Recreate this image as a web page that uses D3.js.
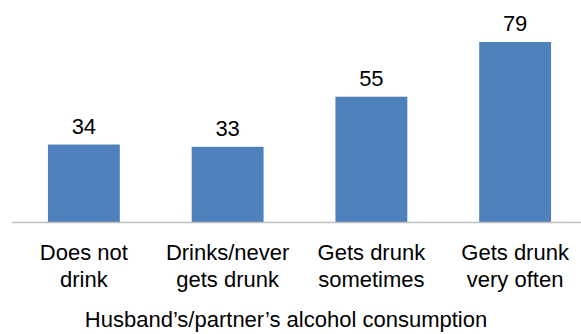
<!DOCTYPE html>
<html>
<head>
<meta charset="utf-8">
<script src="https://cdn.jsdelivr.net/npm/d3@7"></script>
<style>
  body { margin: 0; background: #fff; }
  text { font-family: "Liberation Sans", Arial, sans-serif; fill: #000; }
</style>
</head>
<body>
<div id="chart"></div>
<script>
const categories = [
    ["Does not", "drink"],
    ["Drinks/never", "gets drunk"],
    ["Gets drunk", "sometimes"],
    ["Gets drunk", "very often"]
];
const values = [34, 33, 55, 79];
const xTitle = "Husband\u2019s/partner\u2019s alcohol consumption";

const W = 581, H = 334;
const baseY = 222, topY = 42;

const svg = d3.select("#chart").append("svg")
    .attr("width", W)
    .attr("height", H);

const keys = categories.map((c, i) => i);
const x = d3.scaleBand()
    .domain(keys)
    .range([12, 587])
    .paddingInner(0.5)
    .paddingOuter(0.25);

const y = d3.scaleLinear()
    .domain([0, d3.max(values)])
    .range([baseY, topY]);

// bars
svg.selectAll(".bar")
    .data(values)
    .enter()
  .append("rect")
    .attr("class", "bar")
    .attr("x", (d, i) => x(i))
    .attr("y", d => y(d))
    .attr("width", x.bandwidth())
    .attr("height", d => y(0) - y(d))
    .attr("fill", "#4f81bd");

// baseline
svg.append("line")
    .attr("x1", 12).attr("x2", W)
    .attr("y1", y(0) + 0.5).attr("y2", y(0) + 0.5)
    .attr("stroke", "#bfbfbf")
    .attr("stroke-width", 1.5);

// value labels
svg.selectAll(".val")
    .data(values)
    .enter()
  .append("text")
    .attr("class", "val")
    .attr("x", (d, i) => x(i) + x.bandwidth() / 2)
    .attr("y", d => y(d) - 11)
    .attr("text-anchor", "middle")
    .style("font-size", "22px")
    .text(d => d);

// category labels (two lines each)
const cat = svg.selectAll(".cat")
    .data(categories)
    .enter()
  .append("text")
    .attr("class", "cat")
    .attr("text-anchor", "middle")
    .style("font-size", "22px");
cat.selectAll("tspan")
    .data((d, i) => d.map(line => ({line, i})))
    .enter()
  .append("tspan")
    .attr("x", d => x(d.i) + x.bandwidth() / 2)
    .attr("y", (d, j) => 260 + j * 27)
    .text(d => d.line);

// axis title
svg.append("text")
    .attr("x", 286)
    .attr("y", 327)
    .attr("text-anchor", "middle")
    .style("font-size", "22px")
    .text(xTitle);
</script>
</body>
</html>
